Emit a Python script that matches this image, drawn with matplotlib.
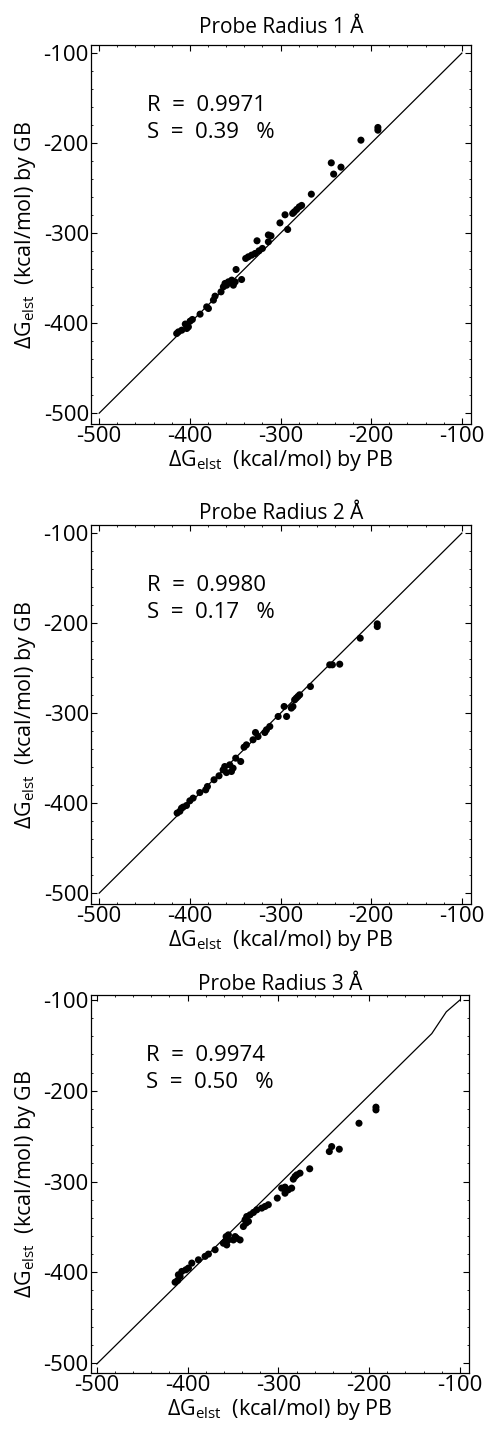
import numpy as np
import matplotlib
matplotlib.use("Agg")
import matplotlib.pyplot as plt
from matplotlib.ticker import MultipleLocator

plt.rcParams.update({
    "font.family": ["Open Sans", "DejaVu Sans"],
    "mathtext.fontset": "custom", "mathtext.rm": "Open Sans",
    "mathtext.it": "Open Sans:italic", "mathtext.bf": "Open Sans:bold",
    "axes.unicode_minus": False,
})

# ---------- data ----------
titles = ["Probe Radius 1 Å", "Probe Radius 2 Å", "Probe Radius 3 Å"]
r_vals = ["0.9971", "0.9980", "0.9974"]
s_vals = ["0.39", "0.17", "0.50"]

pb1 = [-192.6, -192.6, -211.3, -244.0, -233.3, -241.4, -266.0, -276.7, -279.3, -282.2,
       -284.8, -286.6, -295.0, -300.6, -292.1, -313.4, -310.5, -313.4, -325.9, -320.0,
       -323.7, -328.0, -331.8, -335.5, -338.4, -349.0, -342.9, -353.8, -357.5, -361.2,
       -350.0, -352.0, -359.4, -363.0, -365.6, -372.2, -374.0, -381.4, -379.5, -388.7,
       -397.2, -399.7, -401.6, -403.4, -408.9, -412.6, -414.5, -405.0]
gb1 = [-182.6, -185.6, -196.7, -221.9, -226.7, -234.4, -256.7, -269.2, -270.8, -273.7,
       -276.3, -278.1, -279.6, -288.6, -295.9, -302.0, -303.0, -309.6, -308.5, -317.0,
       -319.6, -322.6, -324.4, -326.3, -328.1, -340.4, -351.5, -352.2, -354.1, -355.9,
       -354.1, -357.8, -357.8, -359.6, -365.2, -370.0, -374.4, -381.9, -383.7, -390.0,
       -395.9, -397.8, -404.1, -405.9, -407.8, -409.7, -411.5, -401.0]

pb2 = [-193.3, -193.3, -212.1, -245.7, -242.8, -234.7, -267.0, -278.9, -280.8, -282.6,
       -284.4, -286.3, -288.1, -296.0, -293.3, -302.6, -311.8, -315.5, -317.3, -327.6,
       -324.8, -330.3, -337.6, -340.2, -349.4, -343.9, -361.5, -356.0, -352.3, -354.1,
       -359.6, -363.3, -367.8, -373.3, -380.6, -382.5, -389.0, -396.4, -400.0, -403.7,
       -407.4, -409.2, -414.0, -411.0]
gb2 = [-200.8, -203.8, -216.7, -246.3, -246.3, -245.6, -270.4, -279.6, -281.5, -283.3,
       -285.2, -292.6, -294.4, -292.6, -303.7, -303.7, -314.8, -318.5, -321.5, -321.5,
       -326.0, -329.6, -335.2, -337.8, -350.0, -353.7, -359.3, -357.4, -361.1, -364.8,
       -366.0, -363.0, -369.6, -374.0, -381.5, -385.2, -388.2, -394.4, -397.4, -402.6,
       -404.4, -405.6, -411.0, -409.0]

pb3 = [-192.5, -192.5, -211.2, -241.3, -243.9, -232.9, -265.5, -276.2, -279.8, -281.7,
       -283.6, -285.4, -289.1, -292.7, -292.7, -296.4, -301.2, -311.1, -314.7, -318.3,
       -323.8, -327.5, -331.2, -334.9, -336.7, -333.0, -335.6, -338.6, -345.9, -342.2,
       -349.6, -355.1, -358.7, -356.9, -360.6, -347.7, -355.1, -357.6, -369.7, -377.1,
       -380.8, -388.1, -395.4, -399.1, -402.0, -406.4, -410.2, -408.3, -413.8, -411.0]
gb3 = [-218.1, -221.1, -235.8, -261.5, -267.0, -264.4, -286.0, -290.8, -292.7, -294.5,
       -297.4, -307.3, -309.2, -312.9, -306.2, -307.3, -318.3, -325.6, -327.5, -329.3,
       -331.2, -334.1, -336.7, -338.6, -342.2, -344.0, -345.9, -349.6, -362.5, -364.4,
       -364.4, -364.4, -366.2, -369.9, -368.0, -360.7, -358.8, -360.7, -375.2, -380.0,
       -382.5, -386.3, -389.9, -395.4, -397.3, -399.1, -402.8, -404.6, -411.0, -409.0]

# reference lines (panel 3's is slightly bent in the original)
line12_x = [-500, -100]; line12_y = [-500, -100]
line3_x = [-500, -131, -115, -100]; line3_y = [-501, -137, -113, -100]

panels = [
    dict(pb=pb1, gb=gb1, lx=line12_x, ly=line12_y, rect=[0.188, 0.7033, 0.785, 0.2652],
         xlim=(-509, -90), ylim=(-512, -91), tpad=9, xl=-0.063),
    dict(pb=pb2, gb=gb2, lx=line12_x, ly=line12_y, rect=[0.188, 0.3674, 0.785, 0.2652],
         xlim=(-509, -90), ylim=(-512, -91), tpad=4, xl=-0.063),
    dict(pb=pb3, gb=gb3, lx=line3_x, ly=line3_y, rect=[0.187, 0.0392, 0.782, 0.2645],
         xlim=(-507, -90), ylim=(-511, -94.5), tpad=3, xl=-0.064),
]

fig = plt.figure(figsize=(4.84, 14.29), dpi=100)
for i, p in enumerate(panels):
    ax = fig.add_axes(p["rect"])
    ax.plot(p["lx"], p["ly"], color="black", lw=0.9)
    ax.scatter(p["pb"], p["gb"], s=26, color="black", edgecolor="none", zorder=3)
    ax.set_xlim(*p["xlim"]); ax.set_ylim(*p["ylim"])
    ax.xaxis.set_major_locator(MultipleLocator(100)); ax.yaxis.set_major_locator(MultipleLocator(100))
    ax.xaxis.set_minor_locator(MultipleLocator(20)); ax.yaxis.set_minor_locator(MultipleLocator(20))
    ax.tick_params(which="major", direction="in", length=4, width=0.8, top=True, right=True,
                   labelsize=16, pad=1.5)
    ax.tick_params(which="minor", direction="in", length=1.5, width=0.6, top=True, right=True)
    for sp in ax.spines.values():
        sp.set_linewidth(0.9)
    ax.set_title(titles[i], fontsize=15, pad=p["tpad"])
    ax.set_xlabel("ΔG$_{\\mathrm{elst}}$  (kcal/mol) by PB", fontsize=15.5)
    ax.set_ylabel("ΔG$_{\\mathrm{elst}}$  (kcal/mol) by GB", fontsize=15.5)
    ax.xaxis.set_label_coords(0.5, p["xl"])
    ax.yaxis.set_label_coords(-0.14, 0.5)
    ax.text(0.147, 0.840, f"R  =  {r_vals[i]}", transform=ax.transAxes, fontsize=16, va="center")
    ax.text(0.147, 0.768, f"S  =  {s_vals[i]}   %", transform=ax.transAxes, fontsize=16, va="center")

plt.savefig("out.png", dpi=100)
